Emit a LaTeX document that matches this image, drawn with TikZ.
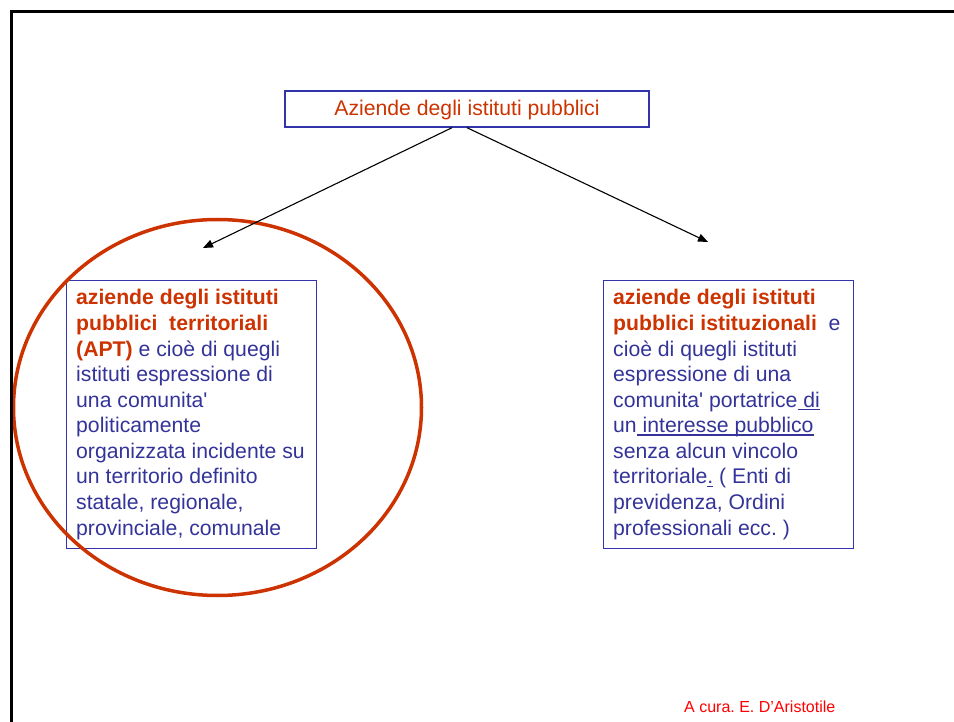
\documentclass[tikz,border=0pt]{standalone}
\usepackage{fontspec}
\setmainfont{Liberation Sans}
\usetikzlibrary{arrows.meta,shapes.geometric}
\definecolor{navy}{HTML}{333399}
\definecolor{boxblue}{HTML}{3333AA}
\definecolor{rust}{HTML}{CC3300}
\definecolor{footred}{HTML}{FF0000}
\newcommand\myul[1]{{\setbox0\hbox{#1}\rlap{\rule[-3pt]{\wd0}{1.3pt}}\box0}}
\newcommand\hl[1]{{\color{rust}\bfseries #1}}
\frenchspacing
\begin{document}
\begin{tikzpicture}[x=1pt,y=1pt,
  boxframe/.style={draw=boxblue, line width=1.4pt, inner sep=0pt},
  body/.style={font=\fontsize{21.2}{25.56}\selectfont, text=navy, inner sep=0pt, anchor=base west},
  conn/.style={-{Triangle[length=10pt,width=8pt]}, line width=1.1pt, black},
]
\useasboundingbox (0,0) rectangle (954,-722);
\node[boxframe, minimum width=364pt, minimum height=36pt, text=rust,
      font=\fontsize{21.2}{25.56}\selectfont, text height=17pt, text depth=3pt] (T) at (467,-109) {Aziende degli istituti pubblici};
\node[boxframe, minimum width=250pt, minimum height=268pt, anchor=north west] (L) at (66,-280) {};
\node[boxframe, minimum width=250pt, minimum height=268pt, anchor=north west] (R) at (603,-280) {};
\node[body] (Ltxt) at (76,-305) {\vtop{%
\hbox{\hl{aziende degli istituti}}%
\hbox{\hl{pubblici\ \ territoriali}}%
\hbox{\hl{(APT)} e cioè di quegli}%
\hbox{istituti espressione di}%
\hbox{una comunita\textquotesingle}%
\hbox{politicamente}%
\hbox{organizzata incidente su}%
\hbox{un territorio definito}%
\hbox{statale, regionale,}%
\hbox{provinciale, comunale}}};
\node[body] (Rtxt) at (613,-305) {\vtop{%
\hbox{\hl{aziende degli istituti}}%
\hbox{\hl{pubblici istituzionali}\ \ e}%
\hbox{cioè di quegli istituti}%
\hbox{espressione di una}%
\hbox{comunita\textquotesingle{} portatrice\myul{ di}}%
\hbox{un\myul{ interesse pubblico}}%
\hbox{senza alcun vincolo}%
\hbox{territoriale\myul{.} ( Enti di}%
\hbox{previdenza, Ordini}%
\hbox{professionali ecc. )}}};
\node[draw=rust, line width=3.5pt, ellipse, minimum width=408pt, minimum height=376pt, inner sep=0pt] (E) at (217.5,-407.5) {};
\coordinate (la) at (203,-248);
\coordinate (ra) at (708,-242);
\draw[conn] ([xshift=-15pt]T.south) -- (la);
\draw[conn] (T.south) -- (ra);
\node[font=\fontsize{16}{19}\selectfont, text=footred, anchor=base west, inner sep=0pt] (F) at (684,-712) {A cura. E. D’Aristotile};
\draw[line width=3pt] (11,-722) -- (11,-11.5) -- (954,-11.5);
\end{tikzpicture}
\end{document}
